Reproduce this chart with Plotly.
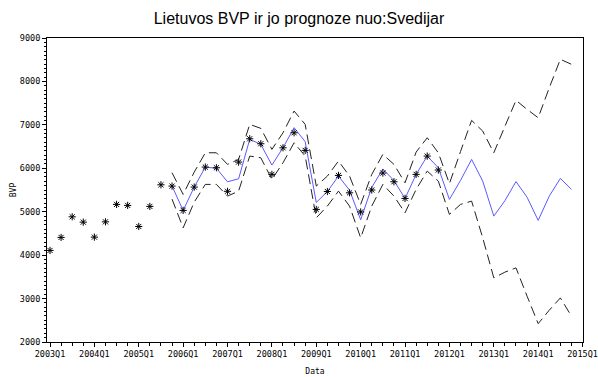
import plotly.graph_objects as go

# Quarter labels 2003Q1 .. 2014Q4 (index = position on x axis)
quarters = [f"{y}Q{q}" for y in range(2003, 2015) for q in range(1, 5)]
year_ticks = ["2003Q1", "2004Q1", "2005Q1", "2006Q1", "2007Q1", "2008Q1", "2009Q1",
              "2010Q1", "2011Q1", "2012Q1", "2013Q1", "2014Q1", "2015Q1"]

# Actual BVP (2003Q1 .. 2011Q4)
actual = [4108, 4408, 4883, 4760, 4415, 4767, 5168, 5145,
          4660, 5122, 5620, 5590, 5030, 5567, 6028, 6012,
          5470, 6143, 6680, 6565, 5860, 6472, 6818, 6412,
          5053, 5465, 5836, 5435, 4995, 5500, 5890, 5690,
          5306, 5860, 6281, 5960]

# Forecast / fitted values and limits (2005Q4 .. 2014Q4)
fc_start = 11
forecast = [5590, 5030, 5567, 6028, 6000, 5690, 5758, 6666, 6551,
            6074, 6472, 6935, 6613, 5213, 5465, 5820, 5495, 4815,
            5560, 5985, 5717, 5306, 5860, 6281, 6012, 5283, 5720,
            6205, 5705, 4899, 5253, 5694, 5333, 4800, 5359, 5767, 5514]
upper = [5896, 5399, 5912, 6357, 6357, 6090, 6205, 7011, 6919,
         6435, 6818, 7318, 7011, 5590, 5820, 6166, 5820, 5168,
         5859, 6320, 6090, 5666, 6373, 6703, 6357, 5647, 6385,
         7103, 6857, 6357, 6965, 7564, 7357, 7163, 7855, 8509, 8394]
lower = [5290, 4629, 5221, 5629, 5629, 5359, 5475, 6281, 6242,
         5744, 6127, 6587, 6281, 4859, 5129, 5475, 5129, 4399,
         5129, 5629, 5359, 4975, 5514, 5935, 5705, 4938, 5168,
         5244, 4399, 3477, 3608, 3707, 3055, 2422, 2733, 3016, 2595]

x_act = list(range(len(actual)))
x_fc = list(range(fc_start, fc_start + len(forecast)))

fig = go.Figure()
dash_style = dict(color="#222222", width=1, dash="10px,5px")
fig.add_trace(go.Scatter(x=x_fc, y=upper, mode="lines", line=dash_style,
                         hoverinfo="skip"))
fig.add_trace(go.Scatter(x=x_fc, y=lower, mode="lines", line=dash_style,
                         hoverinfo="skip"))
fig.add_trace(go.Scatter(x=x_fc, y=forecast, mode="lines",
                         line=dict(color="#5a5aff", width=1)))
fig.add_trace(go.Scatter(x=x_act, y=actual, mode="markers",
                         marker=dict(symbol="asterisk-open", size=6,
                                     color="black",
                                     line=dict(color="black", width=1))))

tick_font = dict(family="DejaVu Sans Mono", size=8.5, color="black")

fig.update_layout(
    width=598, height=377,
    margin=dict(l=47, r=15, t=38, b=35),
    plot_bgcolor="white", paper_bgcolor="white",
    showlegend=False,
    title=dict(text="Lietuvos BVP ir jo prognoze nuo:Svedijar",
               x=0.5, xref="container", xanchor="center",
               y=0.952, yref="container", yanchor="middle",
               font=dict(family="Liberation Sans", size=16, color="black")),
)
fig.update_xaxes(
    range=[-0.27, 48.04],
    automargin=False,
    tickmode="array",
    tickvals=list(range(0, 49, 4)),
    ticktext=year_ticks,
    ticklabeloverflow="allow",
    ticks="outside", ticklen=4, tickcolor="black", tickwidth=1,
    minor=dict(dtick=1, tick0=0, ticks="outside", ticklen=3,
               tickcolor="black", showgrid=False),
    showgrid=False, zeroline=False,
    showline=True, linecolor="black", linewidth=1, mirror=True,
    tickfont=tick_font,
    title=dict(text="Data", font=dict(family="DejaVu Sans Mono", size=8,
                                      color="black"), standoff=10),
)
fig.update_yaxes(
    range=[2000, 9000],
    automargin=False,
    tickmode="linear", tick0=2000, dtick=1000,
    ticks="outside", ticklen=4, tickcolor="black", tickwidth=1,
    minor=dict(dtick=100, ticks="outside", ticklen=2,
               tickcolor="black", showgrid=False),
    showgrid=False, zeroline=False,
    showline=True, linecolor="black", linewidth=1, mirror=True,
    tickfont=tick_font,
    title=dict(text="BVP", font=dict(family="DejaVu Sans Mono", size=8,
                                     color="black"), standoff=2),
)

fig.write_html("out.html")
